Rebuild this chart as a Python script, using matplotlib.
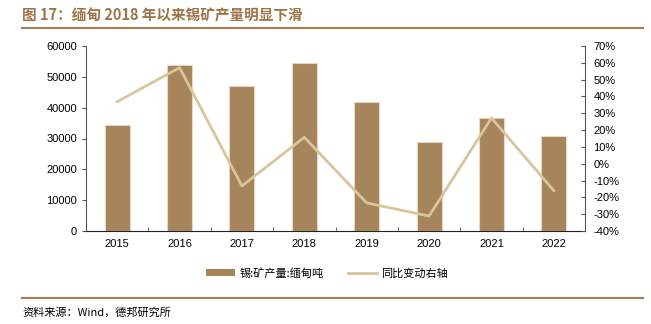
import numpy as np
import matplotlib
matplotlib.use('Agg')
import matplotlib.pyplot as plt
from matplotlib.patches import Patch
from matplotlib.lines import Line2D
from matplotlib.ticker import MultipleLocator, FuncFormatter

plt.rcParams['font.family'] = ['Liberation Sans', 'Noto Sans CJK SC', 'DejaVu Sans']

# 缅甸锡矿产量 (吨) 及同比变动
years = ['2015', '2016', '2017', '2018', '2019', '2020', '2021', '2022']
output_t = [34300, 54000, 47000, 54600, 41800, 28900, 36700, 30800]
yoy_pct = [36.9, 57.1, -13.2, 15.7, -23.3, -31.1, 27.2, -16.0]

bar_color = '#A6845C'
line_color = '#D8C59C'
title_color = '#9C7448'

fig = plt.figure(figsize=(6.51, 3.24), dpi=100)
ax = fig.add_axes([86 / 651, 1 - 231 / 324, (585 - 86) / 651, (231 - 46) / 324])

x = np.arange(len(years))
ax.bar(x, output_t, width=0.4, color=bar_color, edgecolor='#E6D7C0', linewidth=0.8, zorder=2)
ax.set_xlim(-0.5, len(years) - 0.5)
ax.set_ylim(0, 60000)
ax.yaxis.set_major_locator(MultipleLocator(10000))
ax.set_xticks(x)
ax.set_xticklabels(years)
ax.set_xticks(np.arange(len(years) + 1) - 0.5, minor=True)
ax.tick_params(axis='x', which='major', length=0, pad=6, labelsize=8)
ax.tick_params(axis='x', which='minor', direction='in', length=3, color='#555555')
ax.tick_params(axis='y', direction='out', length=3, labelsize=8, color='#555555')

ax2 = ax.twinx()
ax2.plot(x, yoy_pct, color=line_color, linewidth=2, zorder=3)
ax2.set_ylim(-40, 70)
ax2.yaxis.set_major_locator(MultipleLocator(10))
ax2.yaxis.set_major_formatter(FuncFormatter(lambda v, p: f'{v:.0f}%'))
ax2.tick_params(axis='y', direction='in', length=3, labelsize=8, color='#555555', pad=6)

for a in (ax, ax2):
    a.spines['top'].set_visible(False)
    for s in ('left', 'right', 'bottom'):
        a.spines[s].set_color('#555555')
        a.spines[s].set_linewidth(0.8)
ax.spines['right'].set_visible(False)
ax2.spines['left'].set_visible(False)
ax2.spines['bottom'].set_visible(False)
ax.spines['bottom'].set_color('#222222')

# 标题、分隔线与来源
fig.text(22 / 651, 1 - 15 / 324, '图 17：缅甸 2018 年以来锡矿产量明显下滑', fontsize=10.5,
         fontweight='bold', color=title_color, va='center',
         family=['Noto Sans CJK SC', 'DejaVu Sans'])
fig.add_artist(Line2D([22 / 651, 643 / 651], [1 - 28 / 324] * 2, color='#A87C4F', linewidth=1.5))
fig.add_artist(Line2D([22 / 651, 643 / 651], [1 - 298 / 324] * 2, color='#A87C4F', linewidth=1.5))
fig.text(22 / 651, 1 - 312 / 324, '资料来源：Wind，德邦研究所', fontsize=8, va='center',
         family=['Noto Sans CJK SC', 'DejaVu Sans'])

handles = [Patch(facecolor=bar_color, edgecolor='none'),
           Line2D([0], [0], color=line_color, linewidth=2)]
fig.legend(handles, ['锡:矿产量:缅甸吨', '同比变动右轴'], loc='center',
           bbox_to_anchor=(327 / 651, 1 - 273 / 324), ncol=2, frameon=False,
           handlelength=2.6, handleheight=0.6, columnspacing=2.2, handletextpad=0.4,
           prop={'family': ['Noto Sans CJK SC', 'DejaVu Sans'], 'size': 8})

fig.savefig('out.png', dpi=100)
